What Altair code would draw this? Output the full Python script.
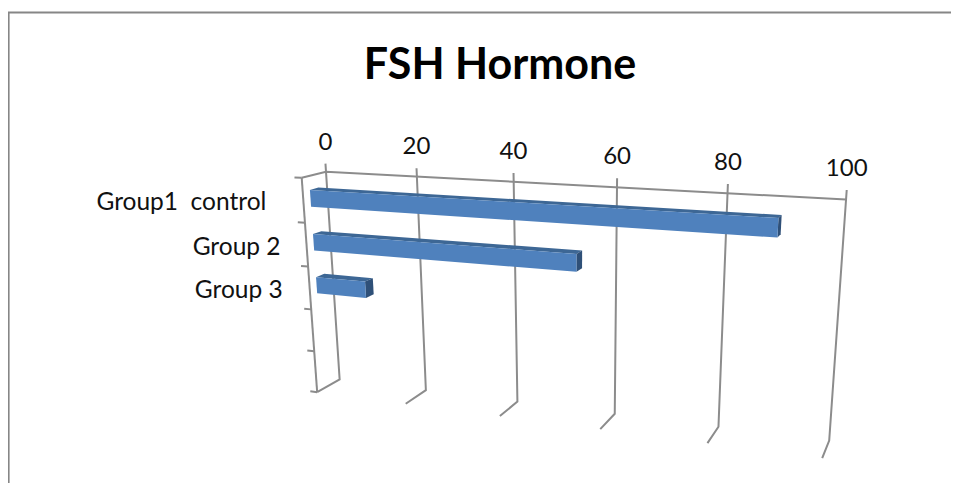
import altair as alt

# ---- chart data ----
title = "FSH Hormone"
categories = ["Group1\u00a0 control", "Group 2", "Group 3"]
values = [90, 54.5, 11]
axis_ticks = [0, 20, 40, 60, 80, 100]
axis_max = 100
slots = 5

# ---- look ----
FONT = "Lato"
GRID = "#8c8c8c"
FRONT, TOP, SIDE = "#4f81bd", "#3d6795", "#2f5078"
# depth range of bars (0 = back wall, 1 = front), half thickness within the category axis
D_BACK, D_FRONT, HALF = 0.36, 0.71, 0.038
# label nudges from the front edge of the category axis
LABEL_NUDGE = [-37, -26, -27]


def project(u, h, d):
    """Perspective view of the 3D chart box -> page position."""
    w = 1 - 0.153 * u + 0.057 * h - 0.0345 * d
    return (
        (326 + 390.6 * u + 33 * h - 34.7 * d) / w,
        (171.7 - 2.7 * u + 229.3 * h) / w,
    )


lines = []


def polyline(name, pts):
    for i, p in enumerate(pts):
        x, y = project(*p)
        lines.append({"id": name, "i": i, "x": x, "y": y})


for t in axis_ticks:
    u = t / axis_max
    polyline(f"grid{t}", [(u, -0.037, 0), (u, 1, 0), (u, 1, 1)])
polyline("backtop", [(0, 0, 1), (0, 0, 0), (1, 0, 0)])
polyline("frontedge", [(0, 0, 1), (0, 1, 1)])
for k in range(slots + 1):
    polyline(f"tick{k}", [(0, k / slots, 1), (-0.016, k / slots, 1)])


def quad(pts, fill):
    ring = [list(project(*p)) for p in pts]
    ring.append(ring[0])
    return {
        "type": "Feature",
        "properties": {"fill": fill},
        "geometry": {"type": "Polygon", "coordinates": [ring]},
    }


faces = []
for i, v in enumerate(values):
    u = v / axis_max
    c = (i + 0.5) / slots
    a, b = c - HALF, c + HALF
    faces.append(quad([(0, a, D_BACK), (u, a, D_BACK), (u, a, D_FRONT), (0, a, D_FRONT)], TOP))
    faces.append(quad([(u, a, D_FRONT), (u, a, D_BACK), (u, b, D_BACK), (u, b, D_FRONT)], SIDE))
    faces.append(quad([(0, a, D_FRONT), (u, a, D_FRONT), (u, b, D_FRONT), (0, b, D_FRONT)], FRONT))

tick_rows = []
for t in axis_ticks:
    x, y = project(t / axis_max, -0.037, 0)
    tick_rows.append({"label": str(t), "x": x, "y": y})

cat_rows = []
for i, name in enumerate(categories):
    x, y = project(0, (i + 0.5) / slots, 1)
    cat_rows.append({"label": name, "x": x + LABEL_NUDGE[i], "y": y + 3})

X = alt.X("x:Q", axis=None, scale=alt.Scale(domain=[8, 951], nice=False, zero=False))
Y = alt.Y("y:Q", axis=None, scale=alt.Scale(domain=[483, 8], nice=False, zero=False))

border = (
    alt.Chart(alt.Data(values=[{"x": 8.6, "y": 483, "i": 0}, {"x": 8.6, "y": 12.6, "i": 1}, {"x": 951, "y": 12.6, "i": 2}]))
    .mark_line(color="#868686", strokeWidth=2)
    .encode(x=X, y=Y, order="i:O")
)
grid = (
    alt.Chart(alt.Data(values=lines))
    .mark_line(color=GRID, strokeWidth=2, strokeJoin="miter")
    .encode(x=X, y=Y, detail="id:N", order="i:O")
)
bars = (
    alt.Chart(alt.Data(values=faces))
    .mark_geoshape(strokeWidth=0)
    .encode(fill=alt.Fill("properties.fill:N", scale=None))
    .properties(projection=alt.Projection(type="identity", scale=1, translate=[-8, -8]))
)
tick_text = (
    alt.Chart(alt.Data(values=tick_rows))
    .mark_text(font=FONT, fontSize=24, color="#111111", dy=-21, baseline="middle", align="center")
    .encode(x=X, y=Y, text="label:N")
)
cat_text = (
    alt.Chart(alt.Data(values=cat_rows))
    .mark_text(font=FONT, fontSize=24.5, color="#111111", baseline="middle", align="right")
    .encode(x=X, y=Y, text="label:N")
)
title_text = (
    alt.Chart(alt.Data(values=[{"label": title, "x": 500, "y": 66}]))
    .mark_text(font=FONT, fontSize=43, fontWeight="bold", color="#000000", baseline="middle", align="center")
    .encode(x=X, y=Y, text="label:N")
)

chart = (
    alt.layer(border, grid, bars, tick_text, cat_text, title_text)
    .properties(
        width=943, height=475, padding=0, background="white",
        autosize=alt.AutoSizeParams(type="none"),
    )
    .configure_view(stroke=None)
)
chart.save("out.html", embed_options={"renderer": "svg", "actions": False})
